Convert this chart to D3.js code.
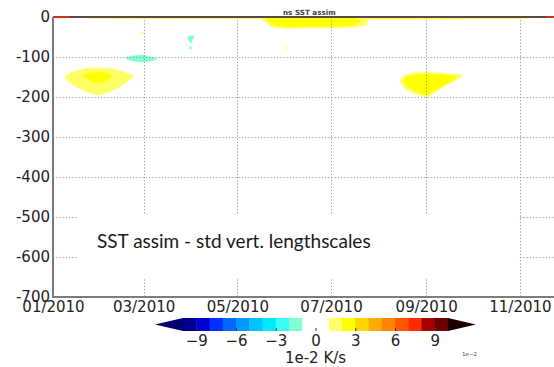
<!DOCTYPE html>
<html>
<head>
<meta charset="utf-8">
<script src="https://cdn.jsdelivr.net/npm/d3@7"></script>
<style>
  body { margin: 0; background: #fff; }
  svg { display: block; }
</style>
</head>
<body>
<svg id="chart" width="554" height="367"></svg>
<script>
// ---- axis ticks ----
const dateTicks = ["2010-01-01", "2010-03-01", "2010-05-01", "2010-07-01", "2010-09-01", "2010-11-01"];
const depthTicks = [0, -100, -200, -300, -400, -500, -600, -700];
const colorbarTicks = [-9, -6, -3, 0, 3, 6, 9];

// ---- colour levels (1e-2 K/s) ----
const levelBounds = [-10, -9, -8, -7, -6, -5, -4, -3, -2, -1, 1, 2, 3, 4, 5, 6, 7, 8, 9, 10];
const levelColors = [
  "#000070",                                   // below -10
  "#00008f", "#0000d2", "#0030ff", "#0068ff", "#0098ff",
  "#00c2ff", "#00e8ff", "#3afff0", "#80ffd4", // -10 .. -1
  "#ffffff",                                   // -1 .. 1
  "#ffff66", "#ffff00", "#ffd600", "#ffab00", "#ff8400",
  "#ff5800", "#ff2a00", "#a80000", "#6a0000", // 1 .. 10
  "#1c0000"                                    // above 10
];

// ---- filled contour patches: [date, depth (m)] outlines ----
const janFebOuter = [
  ["2010-01-09", -147.5], ["2010-01-13", -137.5], ["2010-01-25", -127.5], ["2010-01-31", -127.5],
  ["2010-02-07", -127.5], ["2010-02-16", -137.5], ["2010-02-23", -147.5], ["2010-02-18", -162.5],
  ["2010-02-12", -177.5], ["2010-02-05", -190], ["2010-01-30", -195], ["2010-01-25", -190],
  ["2010-01-19", -180], ["2010-01-12", -165], ["2010-01-09", -152.5]
];
const janFebInner = [
  ["2010-01-20", -147.5], ["2010-01-25", -140], ["2010-01-31", -137.5], ["2010-02-05", -140],
  ["2010-02-09", -147.5], ["2010-02-05", -157.5], ["2010-01-31", -165], ["2010-01-27", -162.5],
  ["2010-01-23", -152.5]
];
const marchCool = [
  ["2010-02-18", -100], ["2010-02-22", -97.5], ["2010-02-28", -95], ["2010-03-06", -100],
  ["2010-03-10", -105], ["2010-03-06", -110], ["2010-02-28", -112.5], ["2010-02-22", -110],
  ["2010-02-18", -105]
];
const aprilCool = [
  ["2010-03-30", -47.5], ["2010-04-03", -47.5], ["2010-04-02", -55], ["2010-04-01", -65],
  ["2010-03-30", -57.5]
];
const aprilCoolDot = [
  ["2010-03-31", -75], ["2010-04-01", -75], ["2010-04-01", -80], ["2010-03-31", -80]
];
const surfaceFilm = [
  ["2010-01-24", 0], ["2010-11-08", 0], ["2010-11-08", -3], ["2010-09-23", -5],
  ["2010-08-14", -6], ["2010-01-24", -3]
];
const summerOuter = [
  ["2010-05-17", 0], ["2010-07-25", 0], ["2010-07-25", -12.5], ["2010-07-24", -20],
  ["2010-07-17", -25], ["2010-07-04", -27.5], ["2010-06-17", -27.5], ["2010-06-01", -28.75],
  ["2010-05-23", -25], ["2010-05-21", -17.5], ["2010-05-17", -7.5]
];
const summerInner = [
  ["2010-05-19", -2.5], ["2010-07-16", -2.5], ["2010-07-21", -12.5], ["2010-07-14", -20],
  ["2010-07-03", -22.5], ["2010-06-04", -23.75], ["2010-05-25", -20], ["2010-05-22", -12.5]
];
const septOuter = [
  ["2010-08-15", -157.5], ["2010-08-17", -147.5], ["2010-08-23", -140], ["2010-08-31", -137.5],
  ["2010-09-10", -140], ["2010-09-24", -145], ["2010-09-25", -147.5], ["2010-09-18", -162.5],
  ["2010-09-12", -175], ["2010-09-06", -190], ["2010-09-02", -200], ["2010-08-27", -195],
  ["2010-08-20", -185], ["2010-08-16", -170]
];
const septInner = [
  ["2010-08-17", -157.5], ["2010-08-21", -147.5], ["2010-08-31", -142.5], ["2010-09-13", -145],
  ["2010-09-21", -150], ["2010-09-15", -165], ["2010-09-06", -185], ["2010-09-01", -195],
  ["2010-08-26", -187.5], ["2010-08-20", -175]
];
const warmSpeckA = [["2010-02-28", -38], ["2010-03-01", -38], ["2010-03-01", -42], ["2010-02-28", -42]];
const warmSpeckB = [["2010-06-01", -75], ["2010-06-02", -75], ["2010-06-02", -80], ["2010-06-01", -80]];

// value of each patch (bin middle, 1e-2 K/s)
const patches = [
  { level: 1.5, outline: surfaceFilm },
  { level: 1.5, outline: janFebOuter },
  { level: 2.5, outline: janFebInner },
  { level: -1.5, outline: marchCool },
  { level: -1.5, outline: aprilCool },
  { level: -1.5, outline: aprilCoolDot },
  { level: 1.5, outline: summerOuter },
  { level: 2.5, outline: summerInner },
  { level: 1.5, outline: septOuter },
  { level: 2.5, outline: septInner },
  { level: 1.5, outline: warmSpeckA },
  { level: 1.5, outline: warmSpeckB }
];

// strong values right at the surface (start, end, level)
const surfaceSegments = [
  ["2010-01-01", "2010-01-12", 7.5],
  ["2010-11-18", "2010-12-31", 7.5]
];

// ---- drawing ----
const parse = d3.timeParse("%Y-%m-%d");
const svg = d3.select("#chart");
const W = 554, H = 367;
const plotLeft = 53, plotTop = 17, plotBottom = 297;

const x = d3.scaleTime()
  .domain([parse("2010-01-01"), parse("2011-01-01")])
  .range([plotLeft, plotLeft + 365 * 1.536]);
const y = d3.scaleLinear().domain([-700, 0]).range([plotBottom, plotTop]);
const color = d3.scaleThreshold().domain(levelBounds).range(levelColors);

svg.append("defs").append("clipPath").attr("id", "plotClip")
  .append("rect").attr("x", plotLeft).attr("y", plotTop)
  .attr("width", W - plotLeft).attr("height", plotBottom - plotTop);

const plot = svg.append("g").attr("clip-path", "url(#plotClip)");

const outlinePath = d3.line()
  .x(d => x(parse(d[0])))
  .y(d => y(d[1]))
  .curve(d3.curveLinearClosed);

plot.selectAll("path.patch")
  .data(patches)
  .join("path")
  .attr("class", "patch")
  .attr("d", d => outlinePath(d.outline))
  .attr("fill", d => color(d.level))
  .attr("stroke", d => color(d.level))
  .attr("stroke-width", 0.6);

// dotted grid
const grid = plot.append("g").attr("stroke", "#9a9a9a").attr("stroke-width", 1)
  .attr("stroke-dasharray", "1.2,2");
grid.selectAll("line.v").data(dateTicks).join("line").attr("class", "v")
  .attr("x1", d => Math.round(x(parse(d))) + 0.5).attr("x2", d => Math.round(x(parse(d))) + 0.5)
  .attr("y1", plotTop).attr("y2", plotBottom);
grid.selectAll("line.h").data(depthTicks).join("line").attr("class", "h")
  .attr("y1", d => Math.round(y(d)) + 0.5).attr("y2", d => Math.round(y(d)) + 0.5)
  .attr("x1", plotLeft).attr("x2", W);

// annotation box
svg.append("rect").attr("x", 77).attr("y", 215).attr("width", 441).attr("height", 63).attr("fill", "#fff");
svg.append("text").attr("x", 97).attr("y", 248)
  .attr("font-family", "Lato, 'Open Sans', sans-serif").attr("font-size", 19).attr("fill", "#1a1a1a")
  .text("SST assim - std vert. lengthscales");

// top edge with surface values
svg.append("line").attr("x1", plotLeft).attr("x2", W).attr("y1", plotTop).attr("y2", plotTop)
  .attr("stroke", "#5a4843").attr("stroke-width", 2);
svg.selectAll("line.surf").data(surfaceSegments).join("line").attr("class", "surf")
  .attr("x1", d => x(parse(d[0]))).attr("x2", d => Math.min(W, x(parse(d[1]))))
  .attr("y1", plotTop).attr("y2", plotTop)
  .attr("stroke", d => color(d[2])).attr("stroke-opacity", 0.7).attr("stroke-width", 2);

// spines
svg.append("line").attr("x1", plotLeft).attr("x2", plotLeft).attr("y1", plotTop).attr("y2", plotBottom + 1)
  .attr("stroke", "#7d7d7d").attr("stroke-width", 2);
svg.append("line").attr("x1", plotLeft).attr("x2", W).attr("y1", plotBottom).attr("y2", plotBottom)
  .attr("stroke", "#7d7d7d").attr("stroke-width", 2);

// axes
const fontAxis = "'DejaVu Sans', sans-serif";
const xAxis = svg.append("g").attr("transform", `translate(0,${plotBottom})`)
  .call(d3.axisBottom(x).tickValues(dateTicks.map(parse)).tickFormat(d3.timeFormat("%m/%Y"))
    .tickSize(0).tickPadding(4));
xAxis.select(".domain").remove();
xAxis.selectAll("text").attr("font-family", fontAxis).attr("font-size", 15).attr("fill", "#222");

const yAxis = svg.append("g").attr("transform", `translate(${plotLeft},0)`)
  .call(d3.axisLeft(y).tickValues(depthTicks).tickFormat(d => String(d)).tickSize(0).tickPadding(3));
yAxis.select(".domain").remove();
yAxis.selectAll("text").attr("font-family", fontAxis).attr("font-size", 15).attr("fill", "#222");

// title
svg.append("text").attr("x", 283).attr("y", 14.5)
  .attr("font-family", fontAxis).attr("font-size", 7.2).attr("font-weight", "bold").attr("fill", "#444")
  .text("ns SST assim");

// ---- colour bar ----
const cb = d3.scaleLinear().domain([-10, 10]).range([183, 448]);
const cbTop = 318, cbH = 13;
const bins = d3.range(levelBounds.length - 1).map(i => [levelBounds[i], levelBounds[i + 1]]);
const cbar = svg.append("g");
cbar.selectAll("rect").data(bins).join("rect")
  .attr("x", d => cb(d[0])).attr("width", d => cb(d[1]) - cb(d[0]) + 0.5)
  .attr("y", cbTop).attr("height", cbH)
  .attr("fill", d => color((d[0] + d[1]) / 2));
cbar.append("path")
  .attr("d", `M${cb(-10)},${cbTop}L${cb(-10) - 28},${cbTop + cbH / 2}L${cb(-10)},${cbTop + cbH}Z`)
  .attr("fill", color(-11));
cbar.append("path")
  .attr("d", `M${cb(10)},${cbTop}L${cb(10) + 28},${cbTop + cbH / 2}L${cb(10)},${cbTop + cbH}Z`)
  .attr("fill", color(11));

const cbAxis = svg.append("g").attr("transform", `translate(0,${cbTop + cbH})`)
  .call(d3.axisBottom(cb).tickValues(colorbarTicks).tickFormat(d3.format("d")).tickSize(3).tickPadding(1));
cbAxis.select(".domain").remove();
cbAxis.selectAll("line").attr("stroke", "#333").attr("transform", "translate(0,-3)");
cbAxis.selectAll("text").attr("font-family", fontAxis).attr("font-size", 15).attr("fill", "#222");

svg.append("text").attr("x", cb(0)).attr("y", 363).attr("text-anchor", "middle")
  .attr("font-family", fontAxis).attr("font-size", 15).attr("fill", "#222")
  .text("1e-2 K/s");
svg.append("text").attr("x", 462).attr("y", 356)
  .attr("font-family", fontAxis).attr("font-size", 5.5).attr("fill", "#444")
  .text("1e−2");
</script>
</body>
</html>
